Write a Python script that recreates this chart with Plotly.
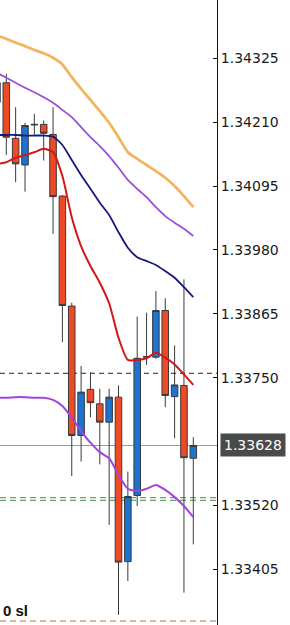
import plotly.graph_objects as go

# candle index positions
idx = list(range(22))

opens = [1.34246, 1.34281, 1.34181, 1.34133, 1.34205, 1.34206, 1.34188, 1.34077,
         1.33879, 1.33646, 1.33729, 1.33703, 1.33670, 1.33715, 1.33419, 1.33538,
         1.33787, 1.33787, 1.33871, 1.33716, 1.33736, 1.33605]
highs = [1.34286, 1.34297, 1.34237, 1.34209, 1.34225, 1.34213, 1.34237, 1.34079,
         1.33885, 1.33771, 1.33760, 1.33730, 1.33730, 1.33736, 1.33581, 1.33860,
         1.33867, 1.33906, 1.33893, 1.33808, 1.33927, 1.33643]
lows = [1.34241, 1.34151, 1.34102, 1.34085, 1.34185, 1.34141, 1.34009, 1.33814,
        1.33573, 1.33599, 1.33679, 1.33594, 1.33485, 1.33323, 1.33384, 1.33519,
        1.33773, 1.33784, 1.33697, 1.33641, 1.33363, 1.33450]
closes = [1.34281, 1.34183, 1.34135, 1.34204, 1.34206, 1.34190, 1.34076, 1.33880,
          1.33646, 1.33724, 1.33705, 1.33670, 1.33715, 1.33418, 1.33536, 1.33785,
          1.33788, 1.33871, 1.33718, 1.33737, 1.33606, 1.33628]

ma_orange = [1.34366, 1.34360, 1.34353, 1.34347, 1.34340, 1.34334, 1.34326, 1.34314,
             1.34291, 1.34270, 1.34250, 1.34230, 1.34209, 1.34183, 1.34156, 1.34144,
             1.34133, 1.34122, 1.34110, 1.34095, 1.34077, 1.34057]
band_upper = [1.34299, 1.34290, 1.34281, 1.34272, 1.34264, 1.34255, 1.34245, 1.34232,
              1.34219, 1.34201, 1.34183, 1.34167, 1.34149, 1.34128, 1.34106, 1.34090,
              1.34075, 1.34057, 1.34041, 1.34029, 1.34018, 1.34005]
ma_navy = [1.34187, 1.34187, 1.34187, 1.34186, 1.34186, 1.34186, 1.34184, 1.34169,
           1.34142, 1.34115, 1.34090, 1.34065, 1.34043, 1.34012, 1.33984, 1.33967,
           1.33960, 1.33953, 1.33942, 1.33930, 1.33913, 1.33895]
ma_red = [1.34135, 1.34138, 1.34146, 1.34151, 1.34156, 1.34162, 1.34156, 1.34113,
          1.34039, 1.33987, 1.33951, 1.33921, 1.33884, 1.33822, 1.33782, 1.33782,
          1.33785, 1.33795, 1.33786, 1.33774, 1.33756, 1.33737]
band_lower = [1.33714, 1.33714, 1.33715, 1.33715, 1.33714, 1.33714, 1.33710, 1.33699,
              1.33678, 1.33654, 1.33633, 1.33616, 1.33605, 1.33575, 1.33550, 1.33546,
              1.33550, 1.33557, 1.33548, 1.33535, 1.33519, 1.33499]

tick_vals = [1.34325, 1.34210, 1.34095, 1.33980, 1.33865, 1.33750, 1.33520, 1.33405]
tick_text = ["1.34325", "1.34210", "1.34095", "1.33980", "1.33865", "1.33750", "1.33520", "1.33405"]

last_price = 1.33628
level_black = 1.33758
levels_green = [1.33534, 1.33529]
level_brown = 1.33312

RED = "#EF4A26"
BLUE = "#1C73D2"

fig = go.Figure()
fig.add_trace(go.Candlestick(
    x=idx, open=opens, high=highs, low=lows, close=closes,
    increasing=dict(fillcolor=BLUE, line=dict(color="#3a3a3a", width=1)),
    decreasing=dict(fillcolor=RED, line=dict(color="#3a3a3a", width=1)),
    whiskerwidth=0, showlegend=False, hoverinfo="skip"))

def add_line(vals, color, width):
    fig.add_trace(go.Scatter(x=idx, y=vals, mode="lines",
                             line=dict(color=color, width=width, shape="spline", smoothing=0.6),
                             showlegend=False, hoverinfo="skip"))

add_line(ma_orange, "#F2B55E", 2.8)
add_line(band_upper, "#9A4FD9", 1.8)
add_line(ma_navy, "#16187E", 1.8)
add_line(ma_red, "#D31616", 2.0)
add_line(band_lower, "#A243DE", 2.0)

shapes = []
shapes.append(dict(type="line", xref="paper", x0=0, x1=1, yref="y", y0=level_black, y1=level_black,
                   line=dict(color="#222222", width=1, dash="5px,4px"), layer="below"))
shapes.append(dict(type="line", xref="paper", x0=0, x1=1, yref="y", y0=last_price, y1=last_price,
                   line=dict(color="#9a9a9a", width=1.2), layer="below"))
for g in levels_green:
    shapes.append(dict(type="line", xref="paper", x0=0, x1=1, yref="y", y0=g, y1=g,
                       line=dict(color="#6E9E6E", width=1.3, dash="6px,4px"), layer="below"))
shapes.append(dict(type="line", xref="paper", x0=0, x1=1, yref="y", y0=level_brown, y1=level_brown,
                   line=dict(color="#B0764E", width=1.2, dash="6px,4px"), layer="below"))

fig.update_layout(
    width=290, height=625,
    margin=dict(l=0, r=73, t=0, b=0, autoexpand=False),
    paper_bgcolor="white", plot_bgcolor="white",
    boxgap=0.3, boxgroupgap=0,
    shapes=shapes,
    xaxis=dict(range=[0.326, 23.535], visible=False, rangeslider=dict(visible=False),
               showgrid=False, zeroline=False),
    yaxis=dict(range=[1.333048, 1.34430], side="right", tickvals=tick_vals, ticktext=tick_text,
               ticks="inside", ticklen=4, tickcolor="#111", showline=True, linecolor="#111",
               linewidth=1, showgrid=False, zeroline=False,
               tickfont=dict(family="DejaVu Sans", size=14, color="#1a1a1a")),
    annotations=[
        dict(xref="paper", x=1, xanchor="left", xshift=3, yref="y", y=last_price,
             text="1.33628", showarrow=False, bgcolor="#4a4a4a", borderpad=3,
             font=dict(family="DejaVu Sans", size=14, color="white")),
        dict(xref="paper", x=0, xanchor="left", xshift=1, yref="paper", y=0, yanchor="bottom",
             yshift=4, text="<b>0 sl</b>", showarrow=False,
             font=dict(family="Liberation Sans", size=15, color="#111")),
    ],
)

fig.write_html("out.html")
